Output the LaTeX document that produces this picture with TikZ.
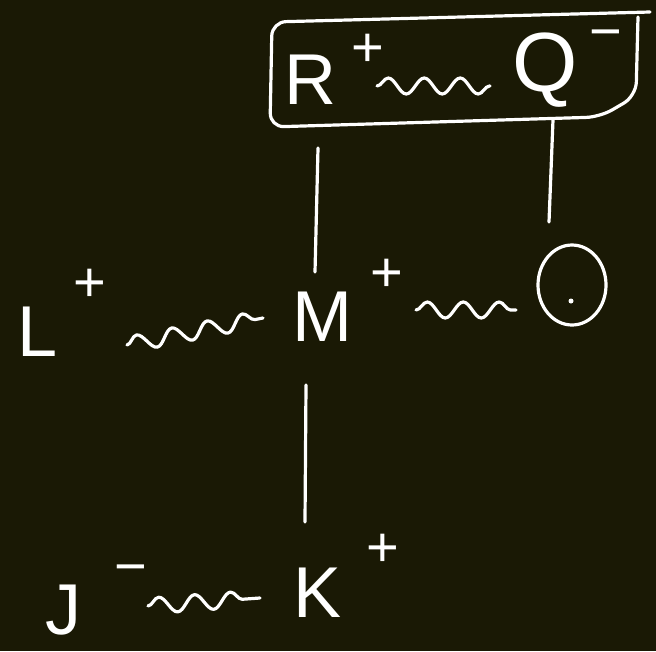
\documentclass[tikz,border=0pt]{standalone}
\usepackage{fontspec}
\setmainfont{Liberation Sans}
\usetikzlibrary{decorations.pathmorphing,shapes.geometric}
\definecolor{bg}{RGB}{26,25,5}
\tikzset{
  ink/.style={draw=white,line width=3.2pt,line cap=round,line join=round},
  atom/.style={text=white,font=\fontsize{72}{72}\selectfont,inner sep=0pt},
  charge/.style={text=white,font=\fontsize{56}{56}\selectfont,inner sep=0pt},
  wavy/.style={ink,decorate,decoration={snake,segment length=36pt,amplitude=8pt}},
}
\begin{document}
\begin{tikzpicture}[x=1pt,y=-1pt]
\fill[bg] (0,0) rectangle (656,651);
\useasboundingbox (0,0) rectangle (656,651);
% top row
\node[atom] (R) at (310,80) {R};
\node[charge] (Rc) at (368,50) {+};
\node[atom,font=\fontsize{84}{84}\selectfont] (Q) at (545,70) {Q};
\node[charge] (Qc) at (606,40) {\textminus};
\coordinate (RQa) at (377,86);
\coordinate (RQb) at (490,86);
\draw[wavy] (RQa) -- (RQb);
% box
\draw[ink,rounded corners=14] (650,12) -- (272,22) -- (270,127) -- (600,117) -- (636,96) -- (638,17);
% middle row
\node[atom] (L) at (38,332) {L};
\node[charge] (Lc) at (90,285) {+};
\node[atom] (M) at (322,317) {M};
\node[charge] (Mc) at (387,275) {+};
\node[ellipse,draw=white,line width=3.2pt,minimum width=68pt,minimum height=80pt] (O) at (572,285) {};
\fill[white] (571,301) circle (2.5pt);
\coordinate (LMa) at (127,345);
\coordinate (LMb) at (263,318);
\draw[wavy] (LMa) -- (LMb);
\coordinate (MOa) at (416,310);
\coordinate (MOb) at (516,310);
\draw[wavy] (MOa) -- (MOb);
% bottom row
\node[atom] (J) at (63,610) {J};
\node[charge] (Jc) at (131,575) {\textminus};
\node[atom] (K) at (318,593) {K};
\node[charge] (Kc) at (383,550) {+};
\coordinate (JKa) at (148,606);
\coordinate (JKb) at (260,598);
\draw[wavy] (JKa) -- (JKb);
% bonds
\coordinate (Rb) at (318,148);
\coordinate (Mt) at (315,272);
\draw[ink] (Rb) -- (Mt);
\coordinate (Qb) at (553,120);
\coordinate (Ot) at (549,222);
\draw[ink] (Qb) -- (Ot);
\coordinate (Mb) at (306,385);
\coordinate (Kt) at (305,522);
\draw[ink] (Mb) -- (Kt);
\end{tikzpicture}
\end{document}
